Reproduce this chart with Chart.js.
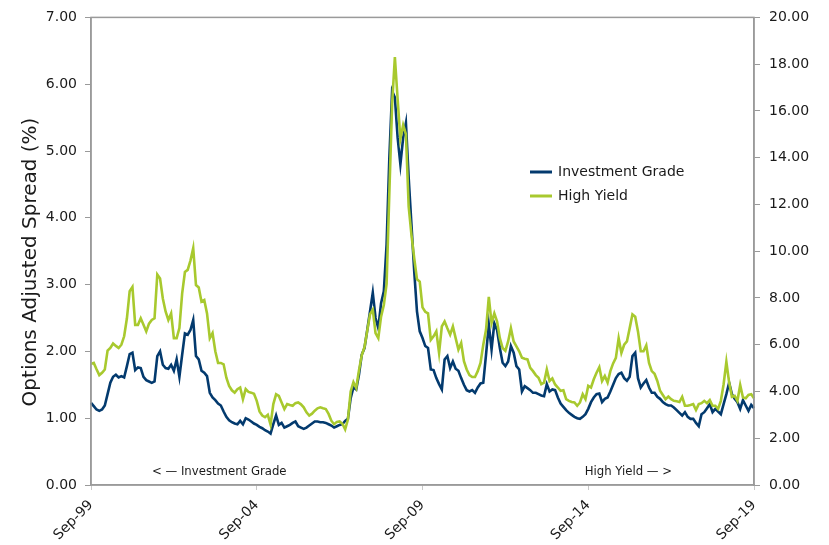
<!DOCTYPE html>
<html>
<head>
<meta charset="utf-8">
<script src="https://cdn.jsdelivr.net/npm/chart.js@4"></script>
<style>
  html, body { margin: 0; padding: 0; background: #fff; }
  #wrap { width: 829px; height: 545px; }
</style>
</head>
<body>
<div id="wrap"><canvas id="oasChart" width="829" height="545"></canvas></div>
<script>
// monthly, Sep-99 .. Sep-19
const monthNames = ["Jan", "Feb", "Mar", "Apr", "May", "Jun", "Jul", "Aug", "Sep", "Oct", "Nov", "Dec"];
const months = [];
for (let i = 0; i <= 240; i++) {
  const m = (8 + i) % 12;
  const y = 1999 + Math.floor((8 + i) / 12);
  months.push(monthNames[m] + "-" + String(y).slice(2));
}

const tickLabels = ["Sep-99", "Sep-04", "Sep-09", "Sep-14", "Sep-19"];
const leftTicks = [0, 1, 2, 3, 4, 5, 6, 7];
const rightTicks = [0, 2, 4, 6, 8, 10, 12, 14, 16, 18, 20];

// Investment Grade OAS (%), left axis
const investmentGrade = [
  1.23, 1.18, 1.13, 1.11, 1.13, 1.19, 1.36, 1.53, 1.62, 1.65, 1.61, 1.63,
  1.61, 1.78, 1.96, 1.98, 1.72, 1.76, 1.75, 1.62, 1.57, 1.55, 1.53, 1.55,
  1.93, 2.00, 1.80, 1.75, 1.74, 1.80, 1.71, 1.88, 1.62, 1.95, 2.27, 2.25,
  2.32, 2.47, 1.93, 1.88, 1.71, 1.68, 1.63, 1.38, 1.31, 1.27, 1.22, 1.19,
  1.10, 1.02, 0.97, 0.94, 0.92, 0.91, 0.96, 0.91, 1.00, 0.98, 0.95, 0.92,
  0.90, 0.87, 0.85, 0.82, 0.80, 0.77, 0.91, 1.04, 0.90, 0.93, 0.86, 0.88,
  0.90, 0.93, 0.95, 0.88, 0.86, 0.84, 0.86, 0.89, 0.92, 0.95, 0.95, 0.94,
  0.94, 0.93, 0.91, 0.89, 0.86, 0.88, 0.90, 0.91, 0.96, 0.99, 1.30, 1.46,
  1.43, 1.65, 1.95, 2.05, 2.32, 2.60, 2.88, 2.50, 2.35, 2.72, 2.90, 3.60,
  4.90, 5.90, 5.80, 5.20, 4.80, 5.20, 5.42, 4.60, 3.90, 3.20, 2.60, 2.30,
  2.20, 2.08, 2.05, 1.73, 1.72, 1.60, 1.51, 1.43, 1.88, 1.93, 1.75, 1.85,
  1.74, 1.71, 1.60, 1.50, 1.42, 1.40, 1.42, 1.38, 1.46, 1.52, 1.53, 1.95,
  2.40, 2.03, 2.42, 2.32, 2.05, 1.83, 1.78, 1.85, 2.08, 1.98, 1.78, 1.73,
  1.40, 1.48, 1.45, 1.42, 1.38, 1.38, 1.36, 1.34, 1.33, 1.51, 1.40, 1.43,
  1.42, 1.31, 1.22, 1.17, 1.12, 1.08, 1.05, 1.02, 1.00, 0.99, 1.02, 1.06,
  1.14, 1.24, 1.31, 1.36, 1.37, 1.24, 1.29, 1.31, 1.40, 1.50, 1.60, 1.66,
  1.68, 1.60, 1.56, 1.62, 1.93, 1.98, 1.60, 1.46, 1.52, 1.57, 1.46, 1.38,
  1.38, 1.32, 1.29, 1.24, 1.21, 1.19, 1.19, 1.16, 1.12, 1.08, 1.04, 1.09,
  1.02, 0.99, 0.99, 0.93, 0.88, 1.06, 1.09, 1.15, 1.21, 1.09, 1.14, 1.10,
  1.06, 1.21, 1.36, 1.53, 1.36, 1.29, 1.24, 1.14, 1.27, 1.19, 1.11, 1.20,
  1.15,
];

// High Yield OAS (%), right axis
const highYield = [
  5.18, 5.22, 4.95, 4.70, 4.80, 4.94, 5.75, 5.86, 6.05, 5.95, 5.86, 6.00,
  6.36, 7.13, 8.29, 8.47, 6.85, 6.85, 7.13, 6.85, 6.57, 6.90, 7.06, 7.13,
  9.00, 8.83, 7.98, 7.42, 7.06, 7.34, 6.28, 6.28, 6.71, 8.20, 9.11, 9.20,
  9.60, 10.13, 8.55, 8.45, 7.84, 7.91, 7.34, 6.28, 6.50, 5.72, 5.22, 5.22,
  5.16, 4.59, 4.24, 4.05, 3.95, 4.10, 4.17, 3.67, 4.10, 3.98, 3.95, 3.90,
  3.60, 3.15, 2.97, 2.90, 3.00, 2.58, 3.46, 3.88, 3.81, 3.53, 3.25, 3.46,
  3.42, 3.39, 3.50, 3.53, 3.45, 3.32, 3.11, 2.97, 3.05, 3.18, 3.28, 3.32,
  3.28, 3.25, 3.04, 2.75, 2.60, 2.70, 2.72, 2.62, 2.38, 2.80, 4.00, 4.40,
  4.15, 4.90, 5.55, 5.90, 6.60, 7.30, 7.50, 6.50, 6.28, 7.20, 7.70, 8.60,
  12.50, 16.30, 18.30, 16.50, 14.80, 15.40, 15.00, 11.90, 10.70, 9.70, 8.80, 8.70,
  7.60, 7.41, 7.34, 6.21, 6.36, 6.57, 5.65, 6.78, 6.99, 6.70, 6.43, 6.78,
  6.28, 5.79, 6.07, 5.30, 4.94, 4.70, 4.62, 4.62, 4.87, 5.22, 6.00, 6.64,
  8.05, 6.92, 7.34, 6.99, 6.28, 5.86, 5.74, 6.14, 6.71, 6.14, 5.93, 5.72,
  5.44, 5.40, 5.37, 5.01, 4.87, 4.70, 4.59, 4.31, 4.38, 4.94, 4.45, 4.56,
  4.30, 4.17, 4.03, 4.05, 3.67, 3.60, 3.55, 3.53, 3.39, 3.53, 3.88, 3.67,
  4.24, 4.17, 4.52, 4.80, 5.04, 4.45, 4.66, 4.38, 4.87, 5.20, 5.44, 6.28,
  5.65, 6.00, 6.14, 6.71, 7.30, 7.20, 6.57, 5.72, 5.72, 5.97, 5.22, 4.87,
  4.76, 4.45, 4.03, 3.85, 3.67, 3.78, 3.67, 3.60, 3.58, 3.55, 3.77, 3.39,
  3.39, 3.42, 3.46, 3.21, 3.46, 3.50, 3.60, 3.50, 3.63, 3.39, 3.39, 3.25,
  3.60, 4.31, 5.27, 4.38, 3.77, 3.81, 3.60, 4.28, 3.74, 3.71, 3.85, 3.88,
  3.71,
];

const seriesNames = ["Investment Grade", "High Yield"];
const seriesColors = ["#033a6e", "#a8c92e"];
const notes = ["< \u2014 Investment Grade", "High Yield \u2014 >"];
const yTitle = "Options Adjusted Spread (%)";

const axisColor = "#9a9a9a";
const textColor = "#1a1a1a";
const fontFamily = "'DejaVu Sans', Verdana, sans-serif";

const extras = {
  id: "extras",
  afterDraw(chart) {
    const { ctx, chartArea } = chart;
    ctx.save();

    // frame round the plot
    ctx.strokeStyle = axisColor;
    ctx.lineWidth = 1.5;
    ctx.strokeRect(chartArea.left, chartArea.top, chartArea.right - chartArea.left, chartArea.bottom - chartArea.top);

    // left axis title
    ctx.save();
    ctx.translate(31, 262);
    ctx.rotate(-Math.PI / 2);
    ctx.font = "20px " + fontFamily;
    ctx.fillStyle = textColor;
    ctx.textAlign = "center";
    ctx.textBaseline = "middle";
    ctx.fillText(yTitle, 0, 0);
    ctx.restore();

    // legend
    ctx.font = "14px " + fontFamily;
    ctx.textBaseline = "middle";
    ctx.textAlign = "left";
    seriesNames.forEach((name, i) => {
      const y = 172 + i * 24;
      ctx.strokeStyle = seriesColors[i];
      ctx.lineWidth = 3;
      ctx.beginPath();
      ctx.moveTo(530, y);
      ctx.lineTo(552, y);
      ctx.stroke();
      ctx.fillStyle = textColor;
      ctx.fillText(name, 558, y);
    });

    // notes along the bottom
    ctx.font = "13px 'DejaVu Sans Condensed', " + fontFamily;
    ctx.fillStyle = textColor;
    ctx.fillText(notes[0], 152, 472);
    ctx.textAlign = "right";
    ctx.fillText(notes[1], 672, 472);

    ctx.restore();
  },
};

new Chart(document.getElementById("oasChart"), {
  type: "line",
  data: {
    labels: months,
    datasets: [
      {
        label: seriesNames[0],
        data: investmentGrade,
        yAxisID: "y",
        borderColor: seriesColors[0],
        borderWidth: 2.6,
        pointRadius: 0,
        tension: 0,
        order: 1,
      },
      {
        label: seriesNames[1],
        data: highYield,
        yAxisID: "y2",
        borderColor: seriesColors[1],
        borderWidth: 2.6,
        pointRadius: 0,
        tension: 0,
        order: 0,
      },
    ],
  },
  options: {
    responsive: false,
    animation: false,
    layout: { padding: { top: 13, left: 0, right: 0, bottom: 0 } },
    plugins: {
      legend: { display: false },
      tooltip: { enabled: false },
    },
    scales: {
      x: {
        type: "category",
        offset: false,
        afterBuildTicks(scale) {
          scale.ticks = scale.ticks.filter((t) => tickLabels.includes(months[t.value]));
        },
        afterFit(scale) {
          scale.height = 60;
        },
        grid: {
          drawOnChartArea: false,
          color: "#c8c8c8",
          tickLength: 5,
        },
        border: { color: axisColor, width: 1.5 },
        ticks: {
          autoSkip: false,
          minRotation: 45,
          maxRotation: 45,
          padding: 7,
          color: textColor,
          font: { family: fontFamily, size: 14 },
          callback(value) {
            return months[value];
          },
        },
      },
      y: {
        position: "left",
        min: leftTicks[0],
        max: leftTicks[leftTicks.length - 1],
        afterBuildTicks(scale) {
          scale.ticks = leftTicks.map((v) => ({ value: v }));
        },
        afterFit(scale) {
          scale.width = 91;
        },
        grid: {
          drawOnChartArea: false,
          color: axisColor,
          tickLength: 6,
        },
        border: { color: axisColor, width: 1.5 },
        ticks: {
          padding: 8,
          color: textColor,
          font: { family: fontFamily, size: 14 },
          callback: (value) => value.toFixed(2),
        },
      },
      y2: {
        position: "right",
        min: rightTicks[0],
        max: rightTicks[rightTicks.length - 1],
        afterBuildTicks(scale) {
          scale.ticks = rightTicks.map((v) => ({ value: v }));
        },
        afterFit(scale) {
          scale.width = 75;
        },
        grid: {
          drawOnChartArea: false,
          color: axisColor,
          tickLength: 6,
        },
        border: { color: axisColor, width: 1.5 },
        ticks: {
          padding: 9,
          color: textColor,
          font: { family: fontFamily, size: 14 },
          callback: (value) => value.toFixed(2),
        },
      },
    },
  },
  plugins: [extras],
});
</script>
</body>
</html>
